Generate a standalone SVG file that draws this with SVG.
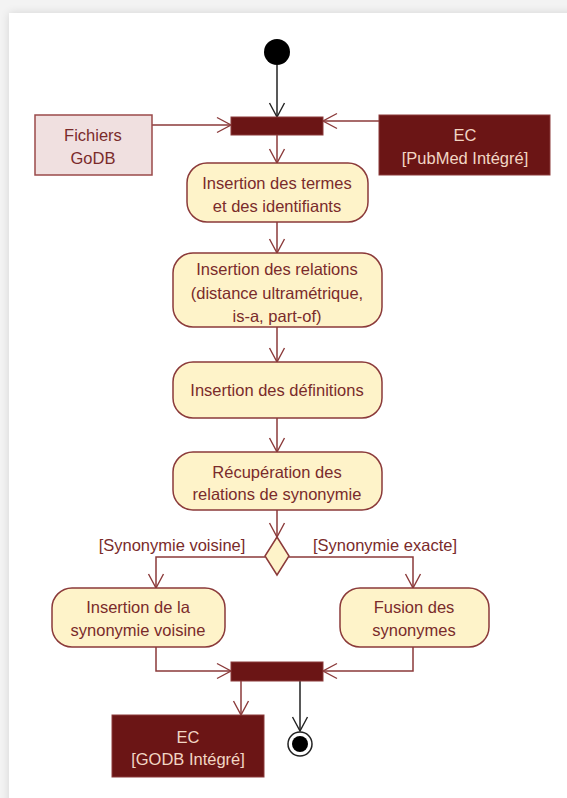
<svg xmlns="http://www.w3.org/2000/svg" width="567" height="798" viewBox="0 0 567 798">
<defs>
<filter id="sh" x="-5%" y="-5%" width="110%" height="110%"><feGaussianBlur stdDeviation="5"/></filter>
<marker id="ar" markerWidth="18" markerHeight="18" refX="15" refY="9" orient="auto" markerUnits="userSpaceOnUse"><path d="M1,1.5 L15,9 L1,16.5" fill="none" stroke="#8b3a3a" stroke-width="1.4"/></marker>
<marker id="ak" markerWidth="18" markerHeight="18" refX="15" refY="9" orient="auto" markerUnits="userSpaceOnUse"><path d="M1,1.5 L15,9 L1,16.5" fill="none" stroke="#222" stroke-width="1.4"/></marker>
</defs>
<style>
.t{font-family:"Liberation Sans",Arial,sans-serif;font-size:16.5px;fill:#7a2b2b;text-anchor:middle}
.tl{font-family:"Liberation Sans",Arial,sans-serif;font-size:16.5px;fill:#f2d6c4;text-anchor:middle}
.act{fill:#fef3c9;stroke:#8b3a3a;stroke-width:1.5}
.bar{fill:#6b1515;stroke:#8b3a3a;stroke-width:1}
.obj{fill:#6b1515;stroke:#8b3a3a;stroke-width:1}
.objl{fill:#f0e0e0;stroke:#9a4a4a;stroke-width:1.5}
.c{fill:none;stroke:#8b3a3a;stroke-width:1.5;marker-end:url(#ar)}
.ck{fill:none;stroke:#222;stroke-width:1.5;marker-end:url(#ak)}
</style>
<rect x="0" y="0" width="567" height="798" fill="#f3f3f3"/>
<rect x="9" y="13" width="570" height="800" fill="#000" opacity="0.12" filter="url(#sh)"/>
<rect x="9" y="13" width="570" height="800" fill="#fff"/>

<g id="connectors">
<line class="ck" x1="277" y1="65" x2="277" y2="117"/>
<line class="c" x1="152" y1="125" x2="231" y2="125"/>
<line class="c" x1="379" y1="121" x2="323" y2="121"/>
<line class="c" x1="277" y1="135" x2="277" y2="163"/>
<line class="c" x1="277" y1="222" x2="277" y2="253"/>
<line class="c" x1="277" y1="327" x2="277" y2="362"/>
<line class="c" x1="277" y1="418" x2="277" y2="452"/>
<line class="c" x1="277" y1="510" x2="277" y2="537"/>
<polyline class="c" points="265,557 156,557 156,588"/>
<polyline class="c" points="289,557 413,557 413,588"/>
<polyline class="c" points="156,647 156,671 231,671"/>
<polyline class="c" points="413,647 413,671 323,671"/>
<line class="c" x1="241" y1="681" x2="241" y2="715"/>
<line class="ck" x1="300" y1="681" x2="300" y2="731"/>
<text class="t" x="172" y="551">[Synonymie voisine]</text>
<text class="t" x="385" y="551">[Synonymie exacte]</text>
</g>

<g id="start"><circle cx="277" cy="52" r="13" fill="#000"/></g>
<g id="fork1"><rect class="bar" x="231" y="117" width="92" height="18"/></g>
<g id="fichiers"><rect class="objl" x="35" y="115" width="117" height="60"/>
<text class="t" x="93" y="141">Fichiers</text><text class="t" x="93" y="164">GoDB</text></g>
<g id="ecpubmed"><rect class="obj" x="379" y="115" width="171" height="60"/>
<text class="tl" x="465" y="141">EC</text><text class="tl" x="465" y="164">[PubMed Intégré]</text></g>
<g id="a1"><rect class="act" x="187" y="163" width="181" height="59" rx="20"/>
<text class="t" x="277" y="189">Insertion des termes</text><text class="t" x="277" y="212">et des identifiants</text></g>
<g id="a2"><rect class="act" x="173" y="253" width="209" height="74" rx="20"/>
<text class="t" x="277" y="275">Insertion des relations</text><text class="t" x="277" y="299">(distance ultramétrique,</text><text class="t" x="277" y="322">is-a, part-of)</text></g>
<g id="a3"><rect class="act" x="173" y="362" width="209" height="56" rx="20"/>
<text class="t" x="277" y="396">Insertion des définitions</text></g>
<g id="a4"><rect class="act" x="173" y="452" width="209" height="58" rx="20"/>
<text class="t" x="277" y="478">Récupération des</text><text class="t" x="277" y="500">relations de synonymie</text></g>
<g id="decision"><polygon points="277,537 289,556 277,575 265,556" fill="#fef3c9" stroke="#8b3a3a" stroke-width="1.5"/></g>
<g id="a5"><rect class="act" x="52" y="588" width="173" height="59" rx="20"/>
<text class="t" x="138" y="613">Insertion de la</text><text class="t" x="138" y="636">synonymie voisine</text></g>
<g id="a6"><rect class="act" x="340" y="588" width="149" height="59" rx="20"/>
<text class="t" x="414" y="613">Fusion des</text><text class="t" x="414" y="636">synonymes</text></g>
<g id="join"><rect class="bar" x="231" y="662" width="92" height="19"/></g>
<g id="ecgodb"><rect class="obj" x="112" y="715" width="152" height="62"/>
<text class="tl" x="188" y="743">EC</text><text class="tl" x="188" y="765">[GODB Intégré]</text></g>
<g id="end"><circle cx="300" cy="744" r="12" fill="#fff" stroke="#222" stroke-width="1.5"/><circle cx="300" cy="744" r="8" fill="#000"/></g>
</svg>
